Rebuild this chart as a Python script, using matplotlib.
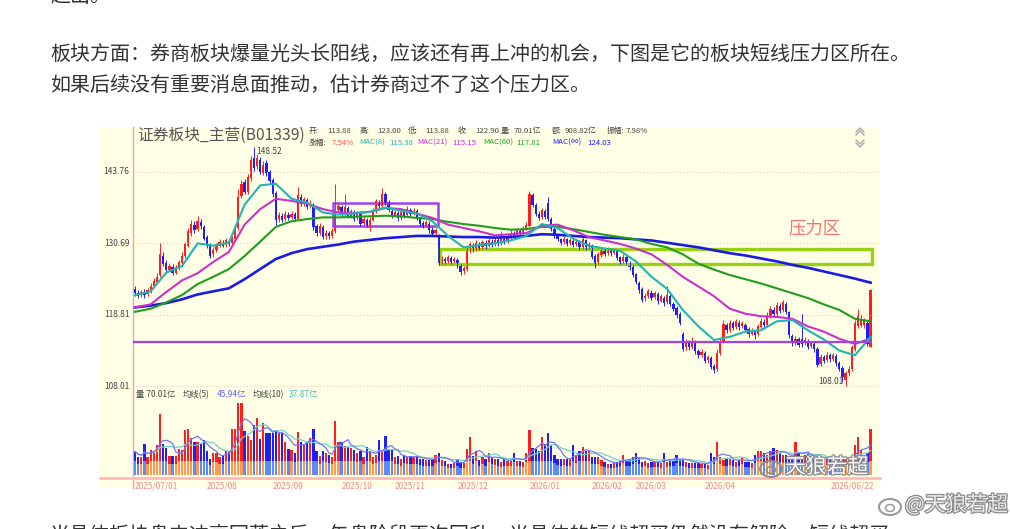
import numpy as np
import matplotlib
matplotlib.use("Agg")
import matplotlib.pyplot as plt
from matplotlib.patches import Rectangle, Ellipse
import matplotlib.patheffects as pe

plt.rcParams['font.family'] = ['Noto Sans CJK SC', 'DejaVu Sans']

W, H = 1010, 529

# ---- 日K数据 2025/07/01 .. 2026/06/22 ----
opens = [
    123.0, 122.4, 122.0, 122.5, 122.1, 122.7, 123.4, 124.2, 125.3, 128.6,
    127.3, 126.2, 126.7, 125.7, 126.5, 127.4, 128.5, 130.3, 132.5, 134.0,
    133.2, 134.4, 133.6, 131.8, 130.5, 128.8, 129.5, 130.3, 130.8, 130.4,
    131.1, 130.7, 131.4, 133.4, 139.3, 141.8, 140.0, 142.5, 146.5, 144.8,
    146.0, 143.5, 145.5, 143.8, 142.2, 139.8, 135.0, 135.6, 135.0, 135.7,
    135.3, 135.9, 135.0, 139.0, 137.8, 138.4, 137.3, 137.6, 133.8, 132.5,
    133.6, 131.9, 132.5, 132.0, 132.8, 136.6, 137.2, 135.9, 137.0, 135.6,
    136.3, 135.1, 136.0, 134.3, 134.8, 134.0, 134.9, 136.4, 138.0, 137.4,
    139.5, 138.1, 136.5, 135.6, 136.1, 135.2, 136.2, 135.7, 136.6, 136.0,
    136.4, 135.0, 134.3, 133.9, 134.2, 133.1, 132.5, 132.0, 127.5, 128.0,
    127.7, 128.1, 127.6, 127.8, 126.9, 125.9, 126.3, 129.5, 130.3, 129.7,
    130.6, 130.0, 130.8, 130.3, 131.0, 130.5, 131.2, 130.7, 131.5, 131.1,
    131.8, 132.5, 132.1, 132.8, 132.5, 133.3, 133.8, 139.4, 137.5, 136.0,
    135.3, 136.4, 138.0, 135.0, 133.3, 132.1, 131.4, 130.9, 131.4, 130.7,
    131.1, 130.5, 130.9, 130.1, 131.2, 130.1, 130.3, 128.5, 127.5, 128.7,
    129.3, 129.0, 129.5, 129.1, 129.3, 128.3, 127.6, 128.3, 127.4, 126.7,
    125.4, 124.0, 123.0, 121.5, 121.8, 122.4, 121.7, 122.2, 121.1, 121.6,
    120.8, 121.8, 120.5, 119.9, 119.0, 115.8, 113.8, 114.5, 113.9, 114.6,
    113.3, 112.7, 113.0, 111.9, 112.2, 111.0, 110.6, 113.0, 114.8, 117.2,
    116.5, 117.5, 116.9, 117.6, 117.0, 117.3, 116.6, 115.9, 116.2, 115.8,
    116.9, 117.7, 117.3, 118.7, 119.6, 119.0, 120.3, 119.6, 120.6, 119.2,
    115.5, 114.5, 115.0, 115.0, 114.4, 114.8, 114.0, 114.3, 113.6, 111.3,
    112.3, 111.9, 112.6, 112.1, 112.5, 111.5, 110.7, 109.0, 109.9, 110.5,
    113.6, 117.0, 117.3, 117.2, 117.6, 113.88,
]
closes = [
    122.3, 121.9, 122.5, 122.0, 122.8, 123.5, 124.3, 125.0, 128.9, 127.1,
    126.1, 126.8, 125.6, 126.6, 127.5, 128.6, 130.5, 132.8, 134.2, 133.0,
    134.6, 133.8, 131.5, 130.3, 128.6, 129.6, 130.4, 130.9, 130.3, 131.2,
    130.6, 131.5, 133.5, 139.0, 141.5, 140.0, 142.8, 146.0, 144.5, 146.5,
    143.8, 145.0, 143.5, 142.0, 139.5, 134.8, 135.8, 134.9, 135.9, 135.2,
    136.0, 135.0, 139.4, 137.8, 138.6, 137.2, 137.9, 133.5, 132.5, 133.8,
    131.8, 132.6, 131.9, 132.9, 136.5, 137.4, 135.8, 137.2, 135.5, 136.4,
    135.0, 136.0, 134.2, 135.0, 133.9, 134.8, 136.5, 138.2, 137.3, 139.6,
    138.0, 136.6, 135.5, 136.2, 135.1, 136.3, 135.6, 136.8, 135.9, 136.5,
    135.2, 134.2, 133.8, 134.4, 133.0, 132.4, 133.0, 127.3, 128.2, 127.6,
    128.3, 127.5, 128.0, 126.8, 125.8, 126.4, 129.6, 130.5, 129.6, 130.8,
    129.9, 130.9, 130.2, 131.2, 130.4, 131.3, 130.6, 131.6, 131.0, 131.9,
    132.6, 132.0, 133.0, 132.4, 133.4, 133.9, 139.6, 137.6, 136.0, 135.2,
    136.6, 135.4, 135.0, 133.2, 132.0, 131.5, 130.8, 131.5, 130.6, 131.2,
    130.4, 131.0, 130.0, 131.4, 130.0, 130.6, 128.4, 127.4, 128.8, 129.4,
    128.9, 129.6, 129.0, 129.5, 128.2, 127.5, 128.4, 127.5, 126.6, 125.3,
    124.2, 122.8, 121.2, 121.8, 122.6, 121.6, 122.3, 121.0, 121.8, 120.7,
    122.0, 120.6, 119.8, 118.8, 117.6, 113.6, 114.6, 113.8, 114.8, 113.2,
    112.6, 113.1, 111.8, 112.3, 110.9, 110.4, 113.0, 114.6, 117.4, 116.4,
    117.6, 116.8, 117.8, 116.9, 117.5, 116.5, 115.8, 116.3, 115.6, 117.0,
    117.8, 117.2, 118.8, 119.8, 118.9, 120.4, 119.5, 120.8, 119.3, 115.6,
    114.4, 115.1, 114.2, 114.3, 114.9, 113.9, 114.4, 113.5, 111.2, 112.4,
    111.8, 112.7, 112.0, 112.6, 111.4, 110.6, 109.4, 109.9, 110.6, 113.8,
    117.6, 118.6, 118.2, 117.9, 114.28, 122.90,
]
highs = [
    123.4, 122.8, 122.9, 123.0, 123.1, 123.9, 124.8, 125.6, 130.7, 129.2,
    127.8, 127.3, 127.1, 127.0, 127.9, 129.2, 131.0, 133.4, 134.9, 134.6,
    135.5, 135.0, 133.9, 132.1, 130.8, 130.0, 130.8, 131.4, 131.2, 131.6,
    131.5, 132.0, 134.0, 140.5, 142.3, 142.4, 143.4, 146.8, 148.52, 147.3,
    146.6, 145.8, 146.0, 144.2, 142.6, 140.2, 136.3, 136.1, 136.4, 136.2,
    136.5, 136.3, 140.8, 139.5, 139.1, 138.8, 138.4, 138.0, 134.2, 134.3,
    134.0, 133.1, 132.9, 133.4, 141.5, 138.0, 137.6, 139.5, 137.4, 136.9,
    136.7, 136.5, 136.4, 135.5, 135.2, 135.3, 137.0, 138.7, 138.5, 140.7,
    139.9, 138.4, 136.9, 136.7, 136.5, 136.8, 136.6, 137.3, 137.0, 137.0,
    136.8, 135.4, 134.7, 134.9, 134.6, 133.5, 133.4, 132.4, 128.6, 128.4,
    128.7, 128.5, 128.4, 128.1, 127.2, 126.8, 130.0, 131.0, 130.7, 131.2,
    131.0, 131.3, 131.2, 131.6, 131.4, 131.8, 131.6, 132.8, 131.9, 132.3,
    133.0, 132.9, 133.4, 133.2, 133.8, 134.4, 140.1, 139.8, 137.9, 136.4,
    137.0, 136.8, 139.0, 135.3, 133.6, 132.4, 131.7, 131.9, 131.7, 131.6,
    131.4, 131.4, 131.2, 132.0, 131.5, 131.0, 130.6, 128.8, 129.2, 129.8,
    129.7, 130.0, 129.9, 129.9, 129.6, 128.6, 128.9, 128.6, 127.7, 127.0,
    125.7, 124.3, 123.3, 122.3, 123.0, 122.8, 122.7, 122.5, 122.2, 121.9,
    123.4, 122.1, 120.8, 120.2, 119.3, 116.1, 115.1, 114.9, 115.3, 114.9,
    113.6, 113.5, 113.3, 112.7, 112.5, 111.3, 113.5, 115.2, 118.0, 117.6,
    118.0, 117.9, 118.2, 118.0, 117.9, 117.6, 116.9, 116.7, 116.5, 117.4,
    118.3, 118.1, 119.2, 120.3, 120.0, 120.8, 120.7, 121.2, 120.9, 119.5,
    115.8, 115.5, 115.3, 119.0, 115.3, 115.1, 114.8, 114.6, 113.9, 112.8,
    112.6, 113.1, 112.9, 113.0, 112.8, 111.8, 111.0, 110.3, 111.0, 114.2,
    118.0, 119.8, 118.8, 118.4, 117.9, 123.00,
]
lows = [
    121.9, 121.5, 121.7, 121.6, 121.8, 122.4, 123.1, 123.9, 125.0, 126.8,
    125.7, 125.9, 125.3, 125.4, 126.2, 127.1, 128.2, 130.0, 132.0, 132.5,
    132.8, 133.2, 131.2, 129.9, 128.2, 128.4, 129.2, 130.0, 130.0, 130.1,
    130.3, 130.4, 131.2, 133.1, 138.8, 139.5, 139.6, 142.0, 144.0, 144.3,
    143.3, 143.1, 143.0, 141.5, 139.0, 134.0, 134.5, 134.4, 134.6, 134.8,
    135.0, 134.6, 134.8, 137.3, 137.4, 136.9, 137.0, 133.1, 132.0, 132.2,
    131.4, 131.5, 131.5, 131.7, 132.6, 136.2, 135.4, 135.6, 135.1, 135.2,
    134.6, 134.8, 133.8, 134.0, 133.5, 132.8, 134.6, 136.1, 136.9, 137.1,
    137.6, 136.2, 135.1, 135.3, 134.7, 134.9, 135.2, 135.4, 135.5, 135.7,
    134.8, 133.8, 133.4, 133.6, 132.6, 132.0, 132.1, 127.0, 127.2, 127.2,
    127.4, 127.1, 127.3, 126.4, 125.3, 125.5, 126.0, 129.1, 129.2, 129.4,
    129.5, 129.7, 129.8, 130.0, 130.0, 130.2, 130.2, 130.4, 130.6, 130.8,
    131.5, 131.6, 131.8, 132.0, 132.2, 133.0, 133.5, 137.2, 135.6, 134.8,
    135.0, 135.0, 134.6, 132.8, 131.6, 131.1, 130.4, 130.6, 130.2, 130.4,
    130.0, 130.2, 129.6, 129.8, 129.6, 129.8, 128.0, 126.5, 127.2, 128.4,
    128.5, 128.7, 128.6, 128.8, 127.9, 127.1, 127.3, 127.1, 126.2, 124.9,
    123.8, 122.4, 120.8, 121.1, 121.5, 121.2, 121.4, 120.6, 120.8, 120.3,
    120.5, 120.2, 119.4, 118.4, 117.2, 113.2, 113.4, 113.4, 113.6, 112.8,
    112.2, 112.3, 111.4, 111.5, 110.5, 109.9, 110.3, 112.7, 114.5, 116.0,
    116.2, 116.4, 116.6, 116.5, 116.7, 116.1, 115.4, 115.6, 115.0, 115.5,
    116.6, 116.8, 117.0, 118.4, 118.5, 118.7, 119.1, 119.3, 118.9, 115.2,
    114.0, 114.2, 113.8, 113.9, 114.1, 113.5, 113.7, 113.1, 110.8, 111.0,
    111.4, 111.6, 111.6, 111.8, 111.0, 110.2, 108.6, 108.01, 109.5, 110.2,
    113.3, 116.7, 116.9, 116.8, 114.0, 113.88,
]
# 成交量 (亿)
volumes = [
    36, 28, 27, 48, 28, 39, 37, 46, 93, 48,
    42, 29, 29, 29, 40, 39, 69, 71, 56, 50,
    51, 48, 53, 37, 25, 34, 33, 27, 29, 37,
    36, 71, 70, 111, 111, 67, 60, 53, 77, 88,
    55, 79, 64, 65, 64, 67, 64, 64, 51, 40,
    38, 34, 66, 50, 46, 50, 56, 70, 36, 29,
    37, 34, 31, 27, 82, 51, 51, 44, 43, 42,
    38, 33, 37, 27, 43, 36, 28, 31, 53, 36,
    59, 39, 38, 27, 29, 24, 31, 28, 29, 27,
    27, 25, 24, 23, 23, 24, 31, 34, 23, 22,
    17, 17, 18, 24, 18, 18, 40, 58, 29, 36,
    23, 27, 24, 33, 28, 25, 24, 20, 24, 22,
    22, 34, 22, 22, 20, 33, 69, 42, 40, 37,
    58, 48, 64, 46, 31, 25, 24, 25, 24, 24,
    46, 31, 37, 43, 37, 37, 28, 27, 27, 23,
    20, 17, 17, 19, 20, 23, 31, 22, 23, 27,
    33, 28, 20, 22, 19, 20, 20, 20, 19, 34,
    20, 24, 22, 31, 23, 23, 20, 19, 19, 18,
    18, 17, 17, 16, 33, 27, 50, 28, 23, 24,
    25, 23, 20, 23, 27, 20, 20, 19, 31, 36,
    37, 34, 31, 36, 42, 38, 33, 31, 30, 27,
    27, 50, 34, 29, 30, 33, 29, 27, 25, 27,
    24, 25, 27, 24, 27, 27, 25, 27, 24, 26,
    46, 58, 38, 31, 34, 70.01,
]

# 均线 (每5根K线读一个点)
ma_step = 5
ma8 = [122.0, 122.6, 125.7, 126.8, 130.7, 130.3, 130.8, 137.6, 141.2, 141.5,
       138.7, 138.0, 136.2, 135.8, 136.0, 136.3, 137.1, 136.5, 136.0, 134.6,
       132.0, 130.0, 130.4, 130.7, 131.2, 132.0, 134.1, 133.4, 131.5, 130.3,
       129.8, 129.4, 127.6, 125.0, 123.0, 119.6, 117.0, 114.9, 115.4, 116.2,
       116.4, 117.8, 118.0, 116.4, 115.0, 113.3, 112.6, 115.38]
ma21 = [120.0, 120.5, 122.5, 124.4, 125.6, 127.5, 129.2, 134.0, 136.8, 138.7,
        138.3, 137.8, 136.8, 136.2, 136.1, 136.3, 137.0, 136.8, 136.0, 135.2,
        134.0, 133.4, 132.8, 132.1, 132.3, 132.5, 133.8, 134.0, 133.0, 131.8,
        131.2, 130.6, 129.8, 128.8, 127.0, 125.0, 123.4, 121.8, 119.8, 119.0,
        118.6, 118.5, 118.2, 117.0, 116.2, 115.1, 114.3, 115.15]
ma60 = [119.3, 119.8, 120.8, 122.0, 123.8, 125.0, 126.3, 128.5, 131.0, 133.6,
        134.6, 135.0, 135.3, 135.3, 135.4, 135.5, 135.6, 135.5, 135.2, 135.0,
        134.5, 134.1, 133.8, 133.4, 133.1, 133.2, 133.6, 133.6, 133.2, 132.7,
        132.2, 131.8, 131.4, 130.6, 130.0, 128.8, 127.2, 126.2, 125.3, 124.6,
        123.9, 123.1, 122.3, 121.5, 120.5, 119.6, 118.2, 117.81]
ma_inf = [120.0, 120.3, 120.7, 121.3, 122.1, 122.6, 123.1, 124.6, 126.3, 128.0,
          129.0, 129.7, 130.1, 130.5, 131.0, 131.3, 131.6, 131.8, 132.0, 132.0,
          131.9, 131.8, 131.8, 131.7, 131.8, 132.0, 132.3, 132.2, 132.0, 131.8,
          131.7, 131.6, 131.4, 131.2, 130.8, 130.4, 130.0, 129.5, 129.0, 128.6,
          128.1, 127.6, 127.0, 126.5, 125.9, 125.3, 124.7, 124.03]

date_labels = ['2025/07/01', '2025/08', '2025/09', '2025/10', '2025/11', '2025/12',
               '2026/01', '2026/02', '2026/03', '2026/04', '2026/06/22']
date_index = [0, 23, 44, 66, 83, 103, 126, 146, 160, 182, 235]
grid_prices = [143.76, 130.69, 118.81, 108.01]

# 手绘标注
box_lo, box_hi, box_i0, box_i1 = 133.8, 137.9, 63.3, 96.8
zone_lo, zone_hi, zone_i0, zone_i1 = 127.2, 129.7, 97.4, 235.5
support = 114.6

RED, BLUE = '#FF1E1E', '#1E1EFF'


def box(x0, y0, x1, y1):
    return [x0 / W, 1 - y1 / H, (x1 - x0) / W, (y1 - y0) / H]


fig = plt.figure(figsize=(W / 100, H / 100), dpi=100)
fig.patch.set_facecolor('white')
page = fig.add_axes([0, 0, 1, 1])
page.set_xlim(0, W)
page.set_ylim(H, 0)
page.axis('off')

# 网页文字
page.text(50, -4, '超出。', fontsize=14.4, color='#333333', va='center')
page.text(50, 55, '板块方面：券商板块爆量光头长阳线，应该还有再上冲的机会，下图是它的板块短线压力区所在。',
          fontsize=14.4, color='#333333', va='center')
page.text(50, 85, '如果后续没有重要消息面推动，估计券商过不了这个压力区。',
          fontsize=14.4, color='#333333', va='center')
page.text(50, 535, '当具体板块盘中冲高回落之后，午盘阶段再次回升，当具体的短线超买仍然没有解除，短线超买',
          fontsize=14.4, color='#333333', va='center')

bg = Rectangle((100, 127), 780, 361, facecolor='#FFFFE6', edgecolor='none')
page.add_patch(bg)
page.plot([133, 133], [127, 488], color='#FF9C9C', lw=1)
page.plot([100, 880], [478, 478], color='#FFB4B4', lw=1.8)

# 标题与行情信息
page.text(137, 135, '证券板块_主营(B01339)', fontsize=11.3, color='#555555', va='center')
hdr1 = [(309, '开:'), (327, '113.88'), (360, '高:'), (377, '123.00'), (408, '低:'),
        (425, '113.88'), (458, '收:'), (475, '122.90'), (501, '量:'), (514, '70.01亿'),
        (552, '额:'), (565, '908.82亿'), (607, '振幅:'), (626, '7.98%')]
for xx, s in hdr1:
    page.text(xx, 131, s, fontsize=5.6, color='#444444', va='center')
hdr2 = [(309, '涨幅:', '#444444'), (332, '7.54%', '#FF5050'), (359, 'MAC(8)', '#20B4B4'),
        (389, '115.38', '#20B4B4'), (417, 'MAC(21)', '#E020E0'), (452, '115.15', '#E020E0'),
        (483, 'MAC(60)', '#20A020'), (516, '117.81', '#20A020'), (552, 'MAC(∞)', '#2020FF'),
        (587, '124.03', '#2020FF')]
for xx, s, c in hdr2:
    page.text(xx, 143, s, fontsize=5.6, color=c, va='center')
# 右上角翻页图标
for k in (0, 3):
    page.plot([856, 860, 864], [132 + k, 128 + k, 132 + k], color='#A8A8A8', lw=1)
    page.plot([856, 860, 864], [140 + k, 144 + k, 140 + k], color='#A8A8A8', lw=1)

n = len(closes)
x = np.arange(n)
o = np.array(opens)
c = np.array(closes)
up = c >= o
colors = np.where(up, RED, BLUE)
xlim = (-0.64, 238.0)

# 价格区
ax = fig.add_axes(box(133, 145, 880, 390))
ax.set_facecolor('none')
ax.set_yscale('log')
ax.set_ylim(107.5, 149.0)
ax.set_xlim(*xlim)
ax.axis('off')
ax.hlines(grid_prices, xlim[0], xlim[1], colors='#F2C4C4', linestyles=(0, (1, 2)), lw=0.8)
for p in grid_prices:
    ax.text(-0.005, p, f'{p:.2f}', transform=ax.get_yaxis_transform(), ha='right', va='center',
            fontsize=6, color='#444444')
ax.vlines(x, lows, highs, colors=colors, lw=0.7)
ax.bar(x, np.maximum(np.abs(c - o), 0.08), bottom=np.minimum(o, c), width=0.72, color=colors)

mx = np.arange(0, n, ma_step)
mx = np.append(mx, n - 1) if mx[-1] != n - 1 else mx
ax.plot(mx, ma_inf, color='#1A1AE6', lw=1.9)
ax.plot(mx, ma60, color='#1E9E1E', lw=1.5)
ax.plot(mx, ma21, color='#CC30CC', lw=1.5)
ax.plot(mx, ma8, color='#1FB5B5', lw=1.5)

imax = int(np.argmax(highs))
imin = int(np.argmin(lows))
ax.text(imax + 0.8, highs[imax], f'{highs[imax]:.2f}', fontsize=6, color='#444444', va='top')
ax.text(imin - 0.8, lows[imin], f'{lows[imin]:.2f}', fontsize=6, color='#444444', va='bottom', ha='right')

ax.add_patch(Rectangle((box_i0, box_lo), box_i1 - box_i0, box_hi - box_lo,
                       fill=False, edgecolor='#A040F0', lw=1.8))
ax.add_patch(Rectangle((zone_i0, zone_lo), zone_i1 - zone_i0, zone_hi - zone_lo,
                       fill=False, edgecolor='#99D010', lw=2.4))
ax.hlines(support, xlim[0], zone_i1, colors='#A040F0', lw=1.6)
ax.text(208.6, 133.3, '压力区', fontsize=12.5, color='#FF6E6E', va='center')

# 成交量区
vax = fig.add_axes(box(133, 390, 880, 475))
vax.set_facecolor('none')
vax.set_ylim(0, 130.2)
vax.set_xlim(*xlim)
vax.axis('off')
v = np.array(volumes, dtype=float)
light = np.where(up, '#FF9A50', '#5A8CFF')
vax.bar(x, v, width=0.72, color=colors)
vax.bar(x, np.minimum(v * 0.6, 22), width=0.72, color=light)


def rolling(a, k):
    return np.array([a[max(0, i - k + 1):i + 1].mean() for i in range(len(a))])


vax.plot(x, rolling(v, 10), color='#70D2CA', lw=0.9)
vax.plot(x, rolling(v, 5), color='#7474FF', lw=0.9)

vol_hdr = [(136, '量 70.01亿', '#444444'), (183, '均线(5)', '#444444'), (217, '45.94亿', '#6060FF'),
           (253, '均线(10)', '#444444'), (289, '37.87亿', '#40C0C0')]
for xx, s, col in vol_hdr:
    page.text(xx, 395, s, fontsize=6, color=col, va='center')

# 日期
for i, lab in zip(date_index, date_labels):
    ha = 'right' if i == n - 1 else 'left'
    xi = i + 1.2 if i == n - 1 else i
    t = vax.text(xi, -0.08, lab, transform=vax.get_xaxis_transform(), ha=ha, va='top',
                 fontsize=6, color='#F08C8C')
    t.set_clip_path(bg)

# 水印 (盖在图上)
over = fig.add_axes([0, 0, 1, 1])
over.set_xlim(0, W)
over.set_ylim(H, 0)
over.axis('off')
over.patch.set_alpha(0)
wm = [pe.withStroke(linewidth=1.8, foreground='#8C8C8C')]
over.text(785, 467, '天狼若超', fontsize=15, color='#FAFAFA', va='center', path_effects=wm)
over.add_patch(Ellipse((771, 469), 22, 16, fill=False, edgecolor='#8C8C8C', lw=1.4))
over.add_patch(Ellipse((771, 470), 9, 7, fill=False, edgecolor='#8C8C8C', lw=1.1))
over.text(905, 505, '@天狼若超', fontsize=15, color='#E8E8E8', va='center', path_effects=wm)
over.add_patch(Ellipse((890, 507), 22, 16, fill=False, edgecolor='#9A9A9A', lw=1.5))
over.add_patch(Ellipse((890, 508), 9, 7, fill=False, edgecolor='#9A9A9A', lw=1.1))

fig.savefig('out.png', dpi=100)
